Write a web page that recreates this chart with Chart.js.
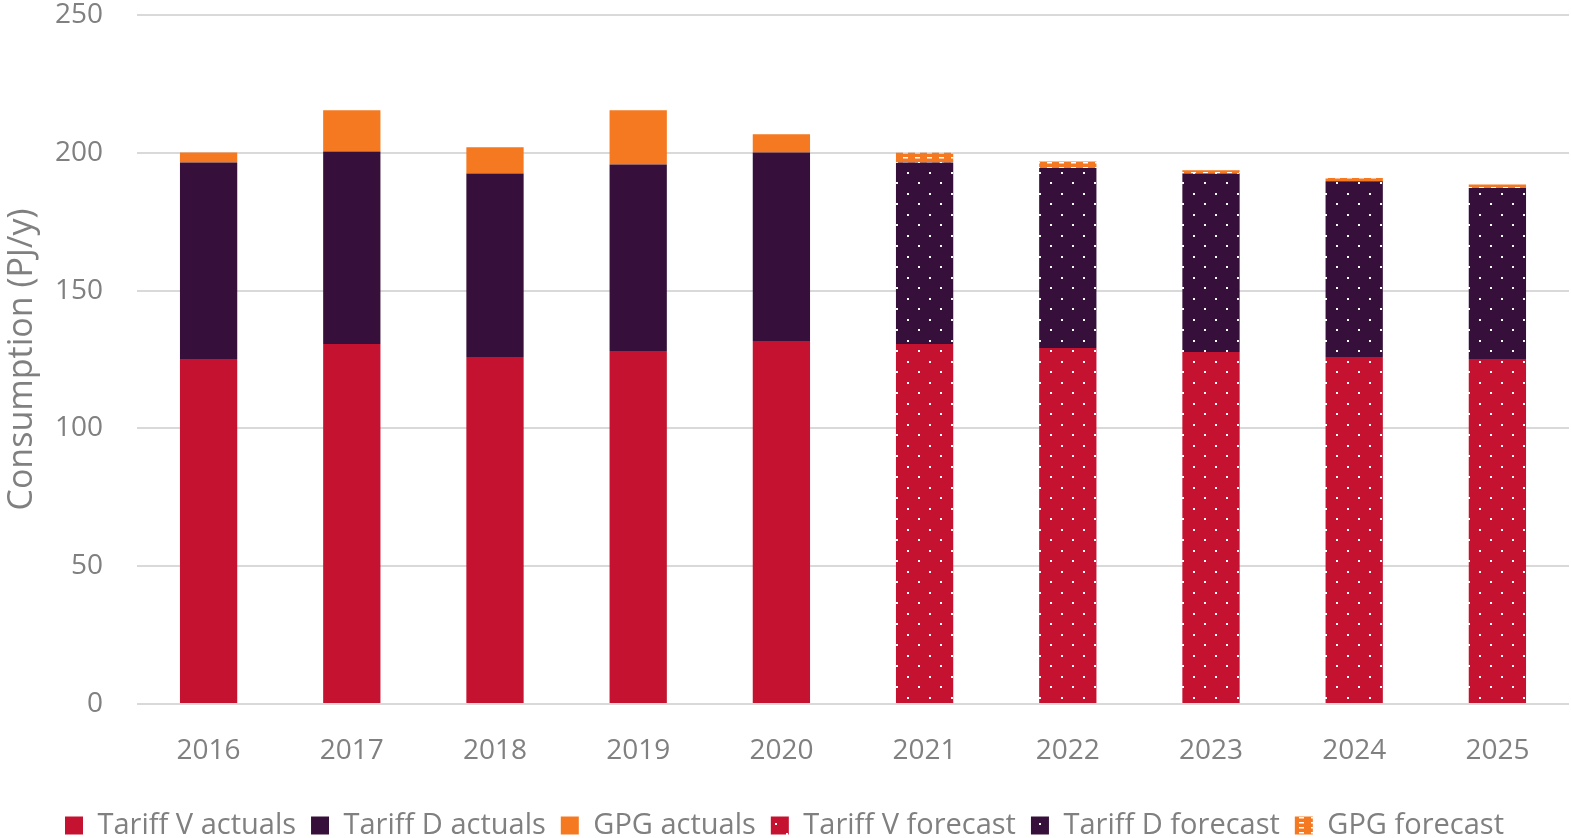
<!DOCTYPE html>
<html><head><meta charset="utf-8">
<script src="https://cdn.jsdelivr.net/npm/chart.js@4/dist/chart.umd.min.js"></script>
<style>html,body{margin:0;padding:0;background:#fff;}#wrap{width:1571px;height:838px;}</style>
</head><body><div id="wrap"><canvas id="c" width="1571" height="838"></canvas></div>
<script>
const categories = ['2016','2017','2018','2019','2020','2021','2022','2023','2024','2025'];
const tariffVActuals  = [125.2, 130.6, 125.9, 128.1, 131.7, null, null, null, null, null];
const tariffDActuals  = [71.3, 69.9, 66.6, 67.7, 68.4, null, null, null, null, null];
const gpgActuals      = [3.6, 14.9, 9.5, 19.6, 6.6, null, null, null, null, null];
const tariffVForecast = [null, null, null, null, null, 130.6, 129.2, 127.7, 125.9, 125.2];
const tariffDForecast = [null, null, null, null, null, 65.9, 65.3, 64.8, 63.8, 62.0];
const gpgForecast     = [null, null, null, null, null, 3.5, 2.3, 1.2, 1.2, 1.3];
const yTicks = [0, 50, 100, 150, 200, 250];

const RED = '#c41230', PURPLE = '#36103a', ORANGE = '#f47920';
function dotPattern(color){
  const c = document.createElement('canvas'); c.width = 22; c.height = 21;
  const x = c.getContext('2d');
  x.fillStyle = color; x.fillRect(0,0,22,21);
  x.fillStyle = '#ffffff';
  x.fillRect(5,4,2,2); x.fillRect(16,14,2,2);
  return x.createPattern(c,'repeat');
}
function dashPattern(color){
  const c = document.createElement('canvas'); c.width = 12; c.height = 5;
  const x = c.getContext('2d');
  x.fillStyle = color; x.fillRect(0,0,12,5);
  x.fillStyle = '#ffffff';
  x.fillRect(3,2,5,1.5);
  return x.createPattern(c,'repeat');
}
const font = "'Open Sans', 'Noto Sans', sans-serif";
const grey = '#808080';
const ds = (label, data, bg) => ({label, data, backgroundColor: bg, stack: 's', borderWidth: 0});
const LEGEND_H = 42;
const legendSizer = {
  id: 'legendSizer',
  afterInit(chart){
    const lg = chart.legend;
    if (!lg) return;
    const orig = lg.fit.bind(lg);
    lg.fit = function(){ orig(); this.height = LEGEND_H; };
  }
};
new Chart(document.getElementById('c'), {
  type: 'bar',
  plugins: [legendSizer],
  data: {
    labels: categories,
    datasets: [
      ds('Tariff V actuals', tariffVActuals, RED),
      ds('Tariff D actuals', tariffDActuals, PURPLE),
      ds('GPG actuals', gpgActuals, ORANGE),
      ds('Tariff V forecast', tariffVForecast, dotPattern(RED)),
      ds('Tariff D forecast', tariffDForecast, dotPattern(PURPLE)),
      ds('GPG forecast', gpgForecast, dashPattern(ORANGE)),
    ]
  },
  options: {
    responsive: false, animation: false,
    categoryPercentage: 1.0, barPercentage: 0.4,
    layout: {padding: {left: 0, right: 2, top: 0, bottom: 0}},
    plugins: {
      tooltip: {enabled: false},
      legend: {
        position: 'bottom',
        labels: {color: grey, font: {family: font, size: 29}, boxWidth: 18, boxHeight: 18, padding: 15}
      }
    },
    scales: {
      x: {
        stacked: true,
        grid: {display: false, drawTicks: false},
        border: {display: false},
        ticks: {color: grey, font: {family: font, size: 28}, padding: 30, maxRotation: 0},
        afterFit: (s) => { s.height = 92; }
      },
      y: {
        stacked: true, min: 0, max: 250,
        afterBuildTicks: (s) => { s.ticks = yTicks.map(v => ({value: v})); },
        afterFit: (s) => { s.width = 137; s.paddingTop = 15; s.paddingBottom = 0; },
        grid: {color: '#d9d9d9', lineWidth: 2, drawTicks: false},
        border: {display: false},
        ticks: {color: grey, font: {family: font, size: 28}, padding: 34},
        title: {display: true, text: 'Consumption (PJ/y)', color: grey, font: {family: font, size: 34}, padding: {top: 2, bottom: 0}}
      }
    }
  }
});
</script></body></html>
